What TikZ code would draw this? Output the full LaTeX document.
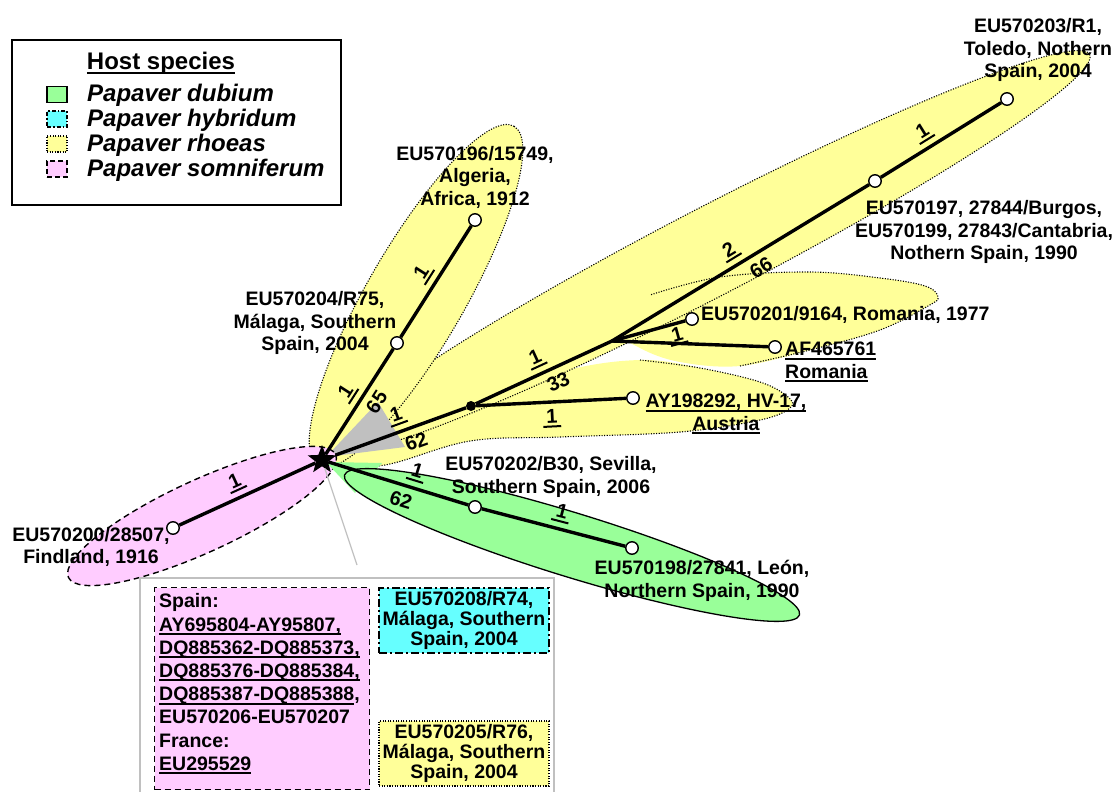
\documentclass[tikz,border=0pt]{standalone}
\usepackage{fontspec}
\setmainfont{Liberation Sans}
\usetikzlibrary{shapes.geometric}
\definecolor{gfill}{HTML}{99FF99}
\definecolor{cfill}{HTML}{66FFFF}
\definecolor{yfill}{HTML}{FFFF99}
\definecolor{pfill}{HTML}{FFCCFF}
\definecolor{grfill}{HTML}{C0C0C0}
\newcommand\uln[1]{\setbox0\hbox{#1}\rlap{\vrule width\wd0 height -2pt depth 4pt}\box0}
\newcommand\ulnb[1]{\setbox0\hbox{#1}\rlap{\vrule width\wd0 height -2.5pt depth 5pt}\box0}
\tikzset{
  br/.style={line width=3.4pt},
  leaf/.style={circle, draw=black, fill=white, line width=1.4pt, minimum size=12.5pt, inner sep=0pt},
  jdot/.style={circle, fill=black, minimum size=10pt, inner sep=0pt},
  lbl/.style={font=\fontsize{19.5}{22.5}\selectfont\bfseries, align=center, inner sep=0pt},
  num/.style={font=\fontsize{20}{22}\selectfont\bfseries, sloped, inner sep=1pt},
  up/.style={above=4pt},
  dn/.style={below=5pt},
  ybord/.style={draw=black, line width=1.1pt, dash pattern=on 1.1pt off 1.5pt},
  pbord/.style={draw=black, line width=1.4pt, dash pattern=on 6pt off 4pt},
  cbord/.style={draw=black, line width=1.4pt, dash pattern=on 8pt off 3pt on 2pt off 3pt},
  legtxt/.style={font=\fontsize{24}{25}\selectfont\bfseries\itshape, anchor=west, inner sep=0pt},
  swatch/.style={minimum width=20pt, minimum height=16pt, inner sep=0pt},
  boxtxt/.style={font=\fontsize{19.5}{20}\selectfont\bfseries, align=center, inner sep=0pt, minimum width=170pt, minimum height=65pt},
}
\begin{document}
\begin{tikzpicture}[x=1pt,y=-1pt]
\useasboundingbox (0,0) rectangle (1114,792);
\clip (0,0) rectangle (1114,792);
\fill[white] (0,0) rectangle (1114,792);
% ---- yellow group (Papaver rhoeas)
\fill[yfill, rotate around={27.5:(710,252)}] (710,252) ellipse [x radius=428, y radius=44];
\fill[yfill] plot[smooth cycle, tension=0.6] coordinates {(620,330) (650,295) (720,277) (810,272) (880,278) (925,286) (938,297) (928,306) (880,330) (810,350) (740,366) (680,362) (640,348)};
\fill[yfill] plot[smooth cycle, tension=0.6] coordinates {(326,466) (385,465) (470,441) (560,437) (680,432) (760,420) (790,408) (788,397) (760,382) (700,368) (640,360) (560,372) (450,410) (360,445)};
\path[ybord, rotate around={27.5:(710,252)}] (710,252) ellipse [x radius=428, y radius=44];
\path[ybord] plot[smooth, tension=0.6] coordinates {(740,366) (810,350) (880,330) (928,306) (938,297) (925,286) (880,278) (810,272) (720,277) (650,295)};
\path[ybord] plot[smooth, tension=0.6] coordinates {(640,360) (700,368) (760,382) (788,397) (790,408) (760,420) (680,432) (560,437) (470,441) (385,465) (326,466)};
\path[fill=yfill, ybord, rotate around={60:(416,296)}] (416,296) ellipse [x radius=196, y radius=49];
% ---- grey wedge
\fill[grfill] (326,457) -- (378,402) -- (405,447) -- cycle;
% ---- pink (Papaver somniferum)
\path[fill=pfill, pbord, rotate around={24.7:(202,516)}] (202,516) ellipse [x radius=147, y radius=36];
% ---- green (Papaver dubium)
\fill[gfill] (326,462) -- (382,463) -- (355,493) -- cycle;
\path[fill=gfill, draw=black, line width=1.3pt, rotate around={-17.1:(572,545)}] (572,545) ellipse [x radius=238, y radius=32];
% ---- inset frame and boxes
\draw[grfill, line width=1.5pt] (140,578) rectangle (554,805);
\node[draw=black, fill=pfill, pbord, minimum width=215pt, minimum height=202pt, inner sep=0pt, anchor=north west] (spainbox) at (154,587) {};
\node[font=\fontsize{19.5}{23.2}\selectfont\bfseries, align=left, anchor=west, inner sep=0pt] (spaintxt) at (159,684)
  {Spain:\\\uln{AY695804-AY95807,}\\\uln{DQ885362-DQ885373,}\\\uln{DQ885376-DQ885384,}\\\uln{DQ885387-DQ885388},\\EU570206-EU570207\\France:\\\uln{EU295529}};
\node[boxtxt, fill=cfill, cbord] (cyanbox) at (464,620.5) {EU570208/R74,\\Málaga, Southern\\Spain, 2004};
\node[boxtxt, fill=yfill, ybord] (yelbox) at (464,753.5) {EU570205/R76,\\Málaga, Southern\\Spain, 2004};
% ---- tree nodes
\node[star, star points=5, star point ratio=2.4, fill=black, minimum size=30pt, inner sep=0pt] (root) at (322,460) {};
\coordinate (glend) at (357,565);
\draw[grfill, line width=1.2pt] (root) -- (glend);
\node[leaf] (n204) at (397,343) {};
\node[leaf] (n196) at (475,220) {};
\node[jdot] (jd) at (471,406) {};
\coordinate (bp) at (612,341);
\node[leaf] (n197) at (875,181) {};
\node[leaf] (n203) at (1007,99) {};
\node[leaf] (n201) at (692,319) {};
\node[leaf] (nAF) at (775,347) {};
\node[leaf] (nAY) at (633,398) {};
\node[leaf] (n202) at (475,507) {};
\node[leaf] (n198) at (632,548) {};
\node[leaf] (n200) at (173,528) {};
% ---- branches
\draw[br] (root) -- (n204) node[num, up, pos=0.51] {\uln{\,1\,}} node[num, dn, pos=0.57] {65};
\draw[br] (n204) -- (n196) node[num, up, pos=0.5] {\uln{\,1\,}};
\draw[br] (root) -- (jd) node[num, up, pos=0.51] {\uln{\,1\,}} node[num, dn, pos=0.58] {62};
\draw[br] (jd) -- (bp) node[num, up, pos=0.49] {\uln{\,1\,}} node[num, dn, pos=0.56] {33};
\draw[br] (bp) -- (n197) node[num, up, pos=0.49] {\uln{\,2\,}} node[num, dn, pos=0.55] {66};
\draw[br] (n197) -- (n203) node[num, up, pos=0.42] {\uln{\,1\,}};
\draw[br] (bp) -- (n201) node[num, below=1pt, pos=0.85] {\uln{\,1\,}};
\draw[br] (bp) -- (nAF);
\draw[br] (jd) -- (nAY) node[num, dn, pos=0.5] {\uln{\,1\,}};
\draw[br] (root) -- (n202) node[num, up, pos=0.6] {\uln{\,1\,}} node[num, dn, pos=0.55] {62};
\draw[br] (n202) -- (n198) node[num, up, pos=0.53] {\uln{\,1\,}};
\draw[br] (n200) -- (root) node[num, up, pos=0.46] {\uln{\,1\,}};
% ---- leaf labels
\node[lbl] (l203) at (1038,50) {EU570203/R1,\\Toledo, Nothern\\Spain, 2004};
\node[lbl] (l197) at (984,232) {EU570197, 27844/Burgos,\\EU570199, 27843/Cantabria,\\Nothern Spain, 1990};
\node[lbl] (l196) at (475,177) {EU570196/15749,\\Algeria,\\Africa, 1912};
\node[lbl] (l204) at (315,323) {EU570204/R75,\\Málaga, Southern\\Spain, 2004};
\node[lbl, anchor=west] (l201) at (701,315) {EU570201/9164, Romania, 1977};
\node[lbl, anchor=west, align=left] (lAF) at (785,362) {\uln{AF465761}\\\uln{Romania}};
\node[lbl] (lAY) at (726,414) {\uln{AY198292, HV-17,}\\\uln{Austria}};
\node[lbl] (l202) at (551,477) {EU570202/B30, Sevilla,\\Southern Spain, 2006};
\node[lbl] (l198) at (702,581) {EU570198/27841, León,\\Northern Spain, 1990};
\node[lbl] (l200) at (91,547) {EU570200/28507,\\Findland, 1916};
% ---- legend
\draw[line width=1.6pt, fill=white] (12,40) rectangle (341,205);
\node[font=\fontsize{24}{25}\selectfont\bfseries, inner sep=0pt] (lgtitle) at (161,63) {\ulnb{Host species}};
\node[swatch, fill=gfill, draw=black, line width=1.4pt] (sw1) at (57,94.5) {};
\node[swatch, fill=cfill, cbord, dash pattern=on 4pt off 2pt on 1.5pt off 2pt] (sw2) at (57,119) {};
\node[swatch, fill=yfill, ybord] (sw3) at (57,144) {};
\node[swatch, fill=pfill, pbord, dash pattern=on 5pt off 3pt] (sw4) at (57,169) {};
\node[legtxt] (lg1) at (87,95) {Papaver dubium};
\node[legtxt] (lg2) at (87,120) {Papaver hybridum};
\node[legtxt] (lg3) at (87,145) {Papaver rhoeas};
\node[legtxt] (lg4) at (87,170) {Papaver somniferum};
\end{tikzpicture}
\end{document}
